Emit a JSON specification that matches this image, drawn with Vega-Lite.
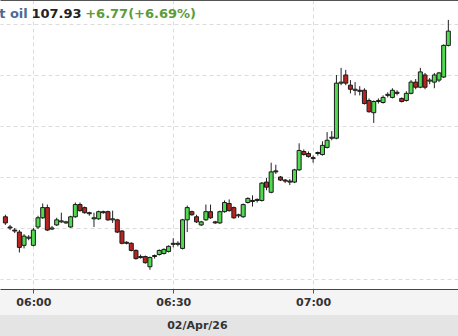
{
  "$schema": "https://vega.github.io/schema/vega-lite/v6.json",
  "padding": 0,
  "background": "#f4f4f4",
  "spacing": 26,
  "bounds": "flush",
  "config": {"view": {"stroke": null}, "font": "DejaVu Sans"},
  "datasets": {
    "candles": [
      {"t":"2026-04-02T05:54:00Z","o":106.11,"c":106.05,"h":106.13,"l":106.03},
      {"t":"2026-04-02T05:55:00Z","o":106.01,"c":106.00,"h":106.03,"l":105.98},
      {"t":"2026-04-02T05:56:00Z","o":105.98,"c":105.97,"h":106.00,"l":105.95},
      {"t":"2026-04-02T05:57:00Z","o":105.96,"c":105.81,"h":105.98,"l":105.76},
      {"t":"2026-04-02T05:58:00Z","o":105.83,"c":105.92,"h":105.94,"l":105.80},
      {"t":"2026-04-02T05:59:00Z","o":105.90,"c":105.91,"h":105.93,"l":105.88},
      {"t":"2026-04-02T06:00:00Z","o":105.83,"c":105.98,"h":106.00,"l":105.82},
      {"t":"2026-04-02T06:01:00Z","o":106.01,"c":106.10,"h":106.12,"l":105.99},
      {"t":"2026-04-02T06:02:00Z","o":106.10,"c":106.20,"h":106.24,"l":106.09},
      {"t":"2026-04-02T06:03:00Z","o":106.20,"c":105.98,"h":106.23,"l":105.97},
      {"t":"2026-04-02T06:04:00Z","o":105.99,"c":106.00,"h":106.02,"l":105.98},
      {"t":"2026-04-02T06:05:00Z","o":106.03,"c":106.08,"h":106.10,"l":106.02},
      {"t":"2026-04-02T06:06:00Z","o":106.06,"c":106.07,"h":106.15,"l":106.05},
      {"t":"2026-04-02T06:07:00Z","o":106.05,"c":106.06,"h":106.07,"l":106.04},
      {"t":"2026-04-02T06:08:00Z","o":106.01,"c":106.11,"h":106.12,"l":106.00},
      {"t":"2026-04-02T06:09:00Z","o":106.11,"c":106.23,"h":106.25,"l":106.10},
      {"t":"2026-04-02T06:10:00Z","o":106.23,"c":106.17,"h":106.25,"l":106.16},
      {"t":"2026-04-02T06:11:00Z","o":106.20,"c":106.15,"h":106.21,"l":106.14},
      {"t":"2026-04-02T06:12:00Z","o":106.15,"c":106.14,"h":106.16,"l":106.12},
      {"t":"2026-04-02T06:13:00Z","o":106.09,"c":106.10,"h":106.15,"l":106.01},
      {"t":"2026-04-02T06:14:00Z","o":106.09,"c":106.16,"h":106.17,"l":106.08},
      {"t":"2026-04-02T06:15:00Z","o":106.16,"c":106.15,"h":106.17,"l":106.14},
      {"t":"2026-04-02T06:16:00Z","o":106.16,"c":106.08,"h":106.17,"l":106.07},
      {"t":"2026-04-02T06:17:00Z","o":106.08,"c":106.09,"h":106.17,"l":106.05},
      {"t":"2026-04-02T06:18:00Z","o":106.08,"c":105.96,"h":106.09,"l":105.95},
      {"t":"2026-04-02T06:19:00Z","o":105.97,"c":105.85,"h":105.98,"l":105.84},
      {"t":"2026-04-02T06:20:00Z","o":105.86,"c":105.85,"h":105.87,"l":105.84},
      {"t":"2026-04-02T06:21:00Z","o":105.85,"c":105.78,"h":105.86,"l":105.77},
      {"t":"2026-04-02T06:22:00Z","o":105.78,"c":105.70,"h":105.79,"l":105.69},
      {"t":"2026-04-02T06:23:00Z","o":105.72,"c":105.71,"h":105.74,"l":105.70},
      {"t":"2026-04-02T06:24:00Z","o":105.72,"c":105.66,"h":105.73,"l":105.65},
      {"t":"2026-04-02T06:25:00Z","o":105.62,"c":105.71,"h":105.72,"l":105.59},
      {"t":"2026-04-02T06:26:00Z","o":105.73,"c":105.72,"h":105.74,"l":105.70},
      {"t":"2026-04-02T06:27:00Z","o":105.74,"c":105.78,"h":105.79,"l":105.73},
      {"t":"2026-04-02T06:28:00Z","o":105.75,"c":105.79,"h":105.80,"l":105.74},
      {"t":"2026-04-02T06:29:00Z","o":105.77,"c":105.82,"h":105.83,"l":105.76},
      {"t":"2026-04-02T06:30:00Z","o":105.85,"c":105.84,"h":105.90,"l":105.81},
      {"t":"2026-04-02T06:31:00Z","o":105.84,"c":105.85,"h":105.87,"l":105.82},
      {"t":"2026-04-02T06:32:00Z","o":105.80,"c":106.08,"h":106.09,"l":105.79},
      {"t":"2026-04-02T06:33:00Z","o":106.08,"c":106.20,"h":106.22,"l":105.96},
      {"t":"2026-04-02T06:34:00Z","o":106.16,"c":106.13,"h":106.17,"l":106.12},
      {"t":"2026-04-02T06:35:00Z","o":106.11,"c":106.06,"h":106.13,"l":106.05},
      {"t":"2026-04-02T06:36:00Z","o":106.03,"c":106.06,"h":106.07,"l":106.02},
      {"t":"2026-04-02T06:37:00Z","o":106.08,"c":106.16,"h":106.23,"l":106.07},
      {"t":"2026-04-02T06:38:00Z","o":106.16,"c":106.10,"h":106.23,"l":106.09},
      {"t":"2026-04-02T06:39:00Z","o":106.06,"c":106.05,"h":106.07,"l":106.04},
      {"t":"2026-04-02T06:40:00Z","o":106.05,"c":106.16,"h":106.17,"l":106.04},
      {"t":"2026-04-02T06:41:00Z","o":106.16,"c":106.25,"h":106.27,"l":106.15},
      {"t":"2026-04-02T06:42:00Z","o":106.24,"c":106.17,"h":106.28,"l":106.16},
      {"t":"2026-04-02T06:43:00Z","o":106.20,"c":106.10,"h":106.21,"l":106.09},
      {"t":"2026-04-02T06:44:00Z","o":106.12,"c":106.13,"h":106.14,"l":106.10},
      {"t":"2026-04-02T06:45:00Z","o":106.11,"c":106.23,"h":106.24,"l":106.10},
      {"t":"2026-04-02T06:46:00Z","o":106.25,"c":106.29,"h":106.30,"l":106.24},
      {"t":"2026-04-02T06:47:00Z","o":106.27,"c":106.26,"h":106.32,"l":106.21},
      {"t":"2026-04-02T06:48:00Z","o":106.27,"c":106.28,"h":106.29,"l":106.25},
      {"t":"2026-04-02T06:49:00Z","o":106.27,"c":106.44,"h":106.45,"l":106.26},
      {"t":"2026-04-02T06:50:00Z","o":106.45,"c":106.40,"h":106.49,"l":106.37},
      {"t":"2026-04-02T06:51:00Z","o":106.35,"c":106.55,"h":106.64,"l":106.34},
      {"t":"2026-04-02T06:52:00Z","o":106.56,"c":106.55,"h":106.62,"l":106.53},
      {"t":"2026-04-02T06:53:00Z","o":106.50,"c":106.47,"h":106.51,"l":106.46},
      {"t":"2026-04-02T06:54:00Z","o":106.47,"c":106.46,"h":106.48,"l":106.44},
      {"t":"2026-04-02T06:55:00Z","o":106.46,"c":106.45,"h":106.48,"l":106.42},
      {"t":"2026-04-02T06:56:00Z","o":106.45,"c":106.57,"h":106.58,"l":106.44},
      {"t":"2026-04-02T06:57:00Z","o":106.57,"c":106.76,"h":106.83,"l":106.56},
      {"t":"2026-04-02T06:58:00Z","o":106.75,"c":106.72,"h":106.77,"l":106.71},
      {"t":"2026-04-02T06:59:00Z","o":106.73,"c":106.70,"h":106.75,"l":106.69},
      {"t":"2026-04-02T07:00:00Z","o":106.69,"c":106.68,"h":106.71,"l":106.64},
      {"t":"2026-04-02T07:01:00Z","o":106.74,"c":106.73,"h":106.75,"l":106.71},
      {"t":"2026-04-02T07:02:00Z","o":106.72,"c":106.81,"h":106.85,"l":106.71},
      {"t":"2026-04-02T07:03:00Z","o":106.79,"c":106.86,"h":106.94,"l":106.78},
      {"t":"2026-04-02T07:04:00Z","o":106.88,"c":106.89,"h":106.95,"l":106.86},
      {"t":"2026-04-02T07:05:00Z","o":106.88,"c":107.42,"h":107.50,"l":106.87},
      {"t":"2026-04-02T07:06:00Z","o":107.42,"c":107.43,"h":107.57,"l":107.40},
      {"t":"2026-04-02T07:07:00Z","o":107.50,"c":107.42,"h":107.55,"l":107.40},
      {"t":"2026-04-02T07:08:00Z","o":107.40,"c":107.36,"h":107.45,"l":107.32},
      {"t":"2026-04-02T07:09:00Z","o":107.35,"c":107.36,"h":107.43,"l":107.30},
      {"t":"2026-04-02T07:10:00Z","o":107.35,"c":107.34,"h":107.39,"l":107.30},
      {"t":"2026-04-02T07:11:00Z","o":107.35,"c":107.22,"h":107.37,"l":107.21},
      {"t":"2026-04-02T07:12:00Z","o":107.25,"c":107.14,"h":107.27,"l":107.13},
      {"t":"2026-04-02T07:13:00Z","o":107.13,"c":107.24,"h":107.25,"l":107.03},
      {"t":"2026-04-02T07:14:00Z","o":107.24,"c":107.25,"h":107.27,"l":107.22},
      {"t":"2026-04-02T07:15:00Z","o":107.23,"c":107.28,"h":107.30,"l":107.22},
      {"t":"2026-04-02T07:16:00Z","o":107.30,"c":107.31,"h":107.33,"l":107.28},
      {"t":"2026-04-02T07:17:00Z","o":107.28,"c":107.35,"h":107.37,"l":107.27},
      {"t":"2026-04-02T07:18:00Z","o":107.33,"c":107.32,"h":107.35,"l":107.30},
      {"t":"2026-04-02T07:19:00Z","o":107.27,"c":107.24,"h":107.28,"l":107.23},
      {"t":"2026-04-02T07:20:00Z","o":107.25,"c":107.32,"h":107.34,"l":107.24},
      {"t":"2026-04-02T07:21:00Z","o":107.32,"c":107.43,"h":107.45,"l":107.31},
      {"t":"2026-04-02T07:22:00Z","o":107.43,"c":107.38,"h":107.46,"l":107.36},
      {"t":"2026-04-02T07:23:00Z","o":107.38,"c":107.53,"h":107.57,"l":107.37},
      {"t":"2026-04-02T07:24:00Z","o":107.50,"c":107.38,"h":107.52,"l":107.36},
      {"t":"2026-04-02T07:25:00Z","o":107.44,"c":107.45,"h":107.47,"l":107.41},
      {"t":"2026-04-02T07:26:00Z","o":107.43,"c":107.50,"h":107.52,"l":107.37},
      {"t":"2026-04-02T07:27:00Z","o":107.45,"c":107.52,"h":107.53,"l":107.43},
      {"t":"2026-04-02T07:28:00Z","o":107.48,"c":107.79,"h":107.80,"l":107.47},
      {"t":"2026-04-02T07:29:00Z","o":107.79,"c":107.93,"h":108.04,"l":107.78}
    ],
    "header": [
      {"t":"2026-04-02T05:52:40Z","p":108.054,"label":"t oil","part":"name"},
      {"t":"2026-04-02T05:59:35Z","p":108.054,"label":"107.93","part":"last"},
      {"t":"2026-04-02T06:11:07Z","p":108.054,"label":"+6.77(+6.69%)","part":"change"}
    ],
    "date": [
      {"t":"2026-04-02T06:35:20Z","label":"02/Apr/26"}
    ]
  },
  "vconcat": [
    {
      "width": 458,
      "height": 289,
      "view": {"fill": "#ffffff", "stroke": null},
      "layer": [
        {
          "data": {"name": "candles"},
          "mark": {"type": "rule", "color": "#222222", "strokeWidth": 1, "clip": true},
          "encoding": {
            "x": {"field": "t", "type": "temporal",
              "scale": {"type": "utc", "nice": false, "domain": [{"year":2026,"month":4,"date":2,"hours":5,"minutes":53,"seconds":55,"utc":true},{"year":2026,"month":4,"date":2,"hours":7,"minutes":30,"seconds":0,"utc":true}]},
              "axis": {"orient": "bottom", "title": null,
                "labelExpr": "utcFormat(datum.value, '%H:%M')",
                "values": [{"year":2026,"month":4,"date":2,"hours":6,"minutes":0,"utc":true},{"year":2026,"month":4,"date":2,"hours":6,"minutes":30,"utc":true},{"year":2026,"month":4,"date":2,"hours":7,"minutes":0,"utc":true}],
                "labelFont": "DejaVu Sans", "labelFontSize": 11, "labelFontWeight": "bold", "labelColor": "#333333",
                "labelPadding": 3, "labelFlush": false, "tickSize": 4, "tickColor": "#555555", "domainColor": "#444444",
                "grid": true, "gridColor": "#dcdcdc", "gridDash": [4, 3]}},
            "y": {"field": "l", "type": "quantitative",
              "scale": {"domain": [105.402, 108.235], "nice": false, "zero": false},
              "axis": {"orient": "right", "title": null, "labels": false, "ticks": false, "domain": false, "grid": true, "gridColor": "#dcdcdc", "gridDash": [4, 3], "values": [105.5, 106, 106.5, 107, 107.5, 108]}},
            "y2": {"field": "h"}
          }
        },
        {
          "data": {"name": "candles"},
          "mark": {"type": "bar", "width": 4, "stroke": "#1a1a1a", "strokeWidth": 1, "clip": true},
          "encoding": {
            "x": {"field": "t", "type": "temporal",
              "scale": {"type": "utc", "nice": false, "domain": [{"year":2026,"month":4,"date":2,"hours":5,"minutes":53,"seconds":55,"utc":true},{"year":2026,"month":4,"date":2,"hours":7,"minutes":30,"seconds":0,"utc":true}]},
              "axis": {"orient": "top", "title": null, "labels": false, "ticks": false, "grid": false, "domainColor": "#555555"}},
            "y": {"field": "o", "type": "quantitative",
              "scale": {"domain": [105.402, 108.235], "nice": false, "zero": false},
              "axis": {"orient": "right", "title": null, "labels": false, "ticks": false, "domain": false, "grid": true, "gridColor": "#dcdcdc", "gridDash": [4, 3], "values": [105.5, 106, 106.5, 107, 107.5, 108]}},
            "y2": {"field": "c"},
            "fill": {"condition": {"test": "datum.c >= datum.o", "value": "#4fda4f"}, "value": "#b82420"}
          }
        },
        {
          "data": {"name": "header"},
          "mark": {"type": "text", "align": "left", "baseline": "alphabetic", "font": "DejaVu Sans", "fontSize": 13, "fontWeight": "bold", "clip": true},
          "encoding": {
            "x": {"field": "t", "type": "temporal",
              "scale": {"type": "utc", "nice": false, "domain": [{"year":2026,"month":4,"date":2,"hours":5,"minutes":53,"seconds":55,"utc":true},{"year":2026,"month":4,"date":2,"hours":7,"minutes":30,"seconds":0,"utc":true}]},
              "axis": null},
            "y": {"field": "p", "type": "quantitative",
              "scale": {"domain": [105.402, 108.235], "nice": false, "zero": false},
              "axis": {"orient": "right", "title": null, "labels": false, "ticks": false, "domain": false, "grid": true, "gridColor": "#dcdcdc", "gridDash": [4, 3], "values": [105.5, 106, 106.5, 107, 107.5, 108]}},
            "text": {"field": "label"},
            "color": {"field": "part", "type": "nominal", "legend": null,
              "scale": {"domain": ["name", "last", "change"], "range": ["#4a6a98", "#222222", "#5b9c3a"]}}
          }
        }
      ],
      "resolve": {"axis": {"x": "independent"}}
    },
    {
      "width": 458,
      "height": 21,
      "view": {"fill": "#e4e4e4", "stroke": null},
      "data": {"name": "date"},
      "mark": {"type": "text", "font": "DejaVu Sans", "fontSize": 11, "fontWeight": "bold", "color": "#333333", "baseline": "middle", "align": "center"},
      "encoding": {
        "x": {"field": "t", "type": "temporal",
          "scale": {"type": "utc", "nice": false, "domain": [{"year":2026,"month":4,"date":2,"hours":5,"minutes":53,"seconds":55,"utc":true},{"year":2026,"month":4,"date":2,"hours":7,"minutes":30,"seconds":0,"utc":true}]},
          "axis": null},
        "text": {"field": "label"}
      }
    }
  ]
}
